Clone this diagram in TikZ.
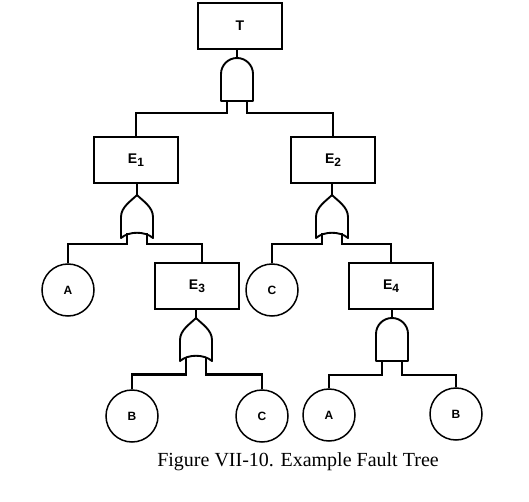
\documentclass[tikz,border=0pt]{standalone}
\usepackage{fontspec}
\setmainfont{Liberation Serif}
\newfontfamily\lblfont{Liberation Sans}
\usepackage{tikz}
\tikzset{event/.style={draw, line width=1.8pt, rectangle, minimum width=84pt, minimum height=46pt, inner sep=0pt, font=\lblfont\fontsize{14}{15}\selectfont\bfseries}}
\tikzset{basic/.style={draw, line width=1.5pt, circle, minimum size=52pt, inner sep=0pt, font=\lblfont\fontsize{12}{13}\selectfont\bfseries}}
\tikzset{wire/.style={line width=2.6pt}}
\tikzset{gateline/.style={line width=1.9pt, line join=round}}
\tikzset{andgate/.pic={
    \draw[gateline] (-16,43) -- (-16,16) .. controls (-16,7.16) and (-8.84,0) .. (0,0)
      .. controls (8.84,0) and (16,7.16) .. (16,16) -- (16,43) -- cycle;
    \coordinate (-top) at (0,0);
    \coordinate (-left) at (-10,43);
    \coordinate (-right) at (10,43);
  }}
\tikzset{orgate/.pic={
    \draw[gateline] (-16,43) -- (-16,22) .. controls (-16,12) and (-6,6) .. (0,0)
      .. controls (6,6) and (16,12) .. (16,22) -- (16,43) .. controls (8,36) and (-8,36) .. cycle;
    \coordinate (-top) at (0,0);
    \coordinate (-left) at (-10,38.5);
    \coordinate (-right) at (10,38.5);
  }}
\newcommand{\sub}[1]{\raisebox{-0.4ex}{\fontsize{12}{12}\selectfont #1}}

\begin{document}
\begin{tikzpicture}[x=1pt, y=-1pt]
    \useasboundingbox (0,0) rectangle (529,502);
    \node[event] (T) at (240,26) {T};
    \node[event] (E1) at (136,160) {E\sub{1}};
    \node[event] (E2) at (333,160) {E\sub{2}};
    \node[event] (E3) at (197,286) {E\sub{3}};
    \node[event] (E4) at (391,286) {E\sub{4}};
    \node[basic] (A1) at (68,290) {A};
    \node[basic] (C1) at (272,290) {C};
    \node[basic] (B1) at (132,416) {B};
    \node[basic] (C2) at (262,416) {C};
    \node[basic] (A2) at (329,415) {A};
    \node[basic] (B2) at (456,414) {B};
    \pic (g0) at (237,58) {andgate};
    \pic (g1) at (137,195) {orgate};
    \pic (g2) at (332,195) {orgate};
    \pic (g3) at (196,318) {orgate};
    \pic (g4) at (392,318) {andgate};
    \node (cap) at (298,462) {\fontsize{20}{22}\selectfont Figure VII-10. Example Fault Tree};
    \draw[wire] (g0-top) -- (g0-top |- T.south);
    \draw[wire] (g1-top) -- (g1-top |- E1.south);
    \draw[wire] (g2-top) -- (g2-top |- E2.south);
    \draw[wire] (g3-top) -- (g3-top |- E3.south);
    \draw[wire] (g4-top) -- (g4-top |- E4.south);
    \draw[wire] (g0-left) -- ++(0,12) -| (E1.north);
    \draw[wire] (g0-right) -- ++(0,12) -| (E2.north);
    \draw[wire] (g1-left) -- ++(0,10.5) -| (A1.north);
    \draw[wire] (g1-right) -- ++(0,10.5) -| ([xshift=5pt]E3.north);
    \draw[wire] (g2-left) -- ++(0,10.5) -| (C1.north);
    \draw[wire] (g2-right) -- ++(0,10.5) -| (E4.north);
    \draw[wire] (g3-left) -- ++(0,18) -| (B1.north);
    \draw[wire] (g3-right) -- ++(0,18) -| (C2.north);
    \draw[wire] (g4-left) -- ++(0,14) -| (A2.north);
    \draw[wire] (g4-right) -- ++(0,14) -| (B2.north);
  \end{tikzpicture}
\end{document}
